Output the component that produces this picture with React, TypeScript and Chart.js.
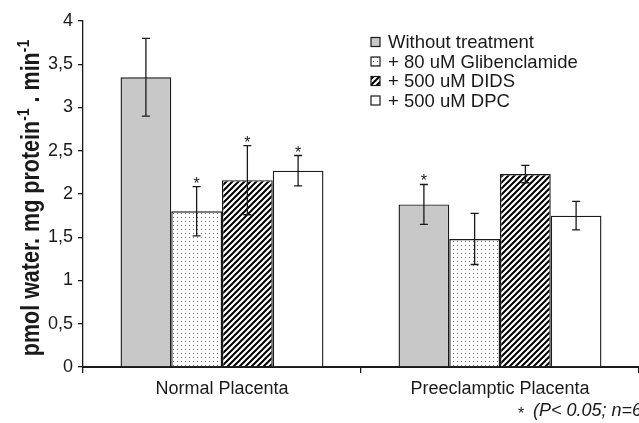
import React, { useEffect, useRef } from 'react';
import { Chart, registerables } from 'chart.js';

Chart.register(...registerables);

const categories = ['Normal Placenta', 'Preeclamptic Placenta'];
const seriesNames = ['Without treatment', '+ 80 uM Glibenclamide', '+ 500 uM DIDS', '+ 500 uM DPC'];

const withoutTreatment = [3.35, 1.88];
const glibenclamide = [1.8, 1.48];
const dids = [2.16, 2.23];
const dpc = [2.27, 1.75];

const withoutTreatmentErr = [0.45, 0.23];
const glibenclamideErr = [0.285, 0.295];
const didsErr = [0.4, 0.1];
const dpcErr = [0.175, 0.165];

const withoutTreatmentSig = [false, true];
const glibenclamideSig = [true, false];
const didsSig = [true, false];
const dpcSig = [true, false];

const yMin = 0;
const yMax = 4;
const yStep = 0.5;

const FONT = '"Liberation Sans", Arial, sans-serif';
const INK = '#1a1a1a';

function makeStipple(): CanvasPattern | string {
  const c = document.createElement('canvas');
  c.width = 4;
  c.height = 4;
  const g = c.getContext('2d');
  if (!g) return '#eee';
  g.fillStyle = '#ffffff';
  g.fillRect(0, 0, 4, 4);
  g.fillStyle = '#6a6a6a';
  g.fillRect(1, 1, 1, 1);
  const p = g.createPattern(c, 'repeat');
  return p || '#eee';
}

function makeHatch(): CanvasPattern | string {
  const s = 6;
  const c = document.createElement('canvas');
  c.width = s;
  c.height = s;
  const g = c.getContext('2d');
  if (!g) return '#888';
  g.fillStyle = '#ffffff';
  g.fillRect(0, 0, s, s);
  g.strokeStyle = '#000000';
  g.lineWidth = 2;
  g.beginPath();
  g.moveTo(-1, s + 1);
  g.lineTo(s + 1, -1);
  g.moveTo(-1, 1);
  g.lineTo(1, -1);
  g.moveTo(s - 1, s + 1);
  g.lineTo(s + 1, s - 1);
  g.stroke();
  const p = g.createPattern(c, 'repeat');
  return p || '#888';
}

export default function App() {
  const ref = useRef<HTMLCanvasElement | null>(null);

  useEffect(() => {
    const canvas = ref.current;
    if (!canvas) return;
    const stipple = makeStipple();
    const hatch = makeHatch();
    const fills: any[] = ['#c8c8c9', stipple, hatch, '#ffffff'];
    const values = [withoutTreatment, glibenclamide, dids, dpc];
    const errs = [withoutTreatmentErr, glibenclamideErr, didsErr, dpcErr];
    const sigs = [withoutTreatmentSig, glibenclamideSig, didsSig, dpcSig];

    const errorPlugin = {
      id: 'errorBars',
      afterDatasetsDraw(chart: any) {
        const ctx = chart.ctx;
        const ys = chart.scales.y;
        ctx.save();
        ctx.strokeStyle = INK;
        ctx.fillStyle = INK;
        ctx.lineWidth = 1.3;
        for (let i = 0; i < values.length; i++) {
          const meta = chart.getDatasetMeta(i);
          meta.data.forEach((el: any, j: number) => {
            const v = values[i][j];
            const e = errs[i][j];
            const x = el.x;
            const yt = ys.getPixelForValue(v + e);
            const yb = ys.getPixelForValue(v - e);
            ctx.beginPath();
            ctx.moveTo(x, yt);
            ctx.lineTo(x, yb);
            ctx.moveTo(x - 4, yt);
            ctx.lineTo(x + 4, yt);
            ctx.moveTo(x - 4, yb);
            ctx.lineTo(x + 4, yb);
            ctx.stroke();
            if (sigs[i][j]) {
              ctx.font = `16px ${FONT}`;
              ctx.textAlign = 'center';
              ctx.textBaseline = 'alphabetic';
              ctx.fillText('*', x, yt + 2);
            }
          });
        }
        ctx.restore();
      },
    };

    const decorPlugin = {
      id: 'decor',
      afterDraw(chart: any) {
        const ctx = chart.ctx;
        ctx.save();
        // legend
        const lx = 371;
        const ly0 = 42;
        const dy = 19.5;
        ctx.font = `18.5px ${FONT}`;
        ctx.textBaseline = 'middle';
        ctx.textAlign = 'left';
        for (let i = 0; i < seriesNames.length; i++) {
          const cy = ly0 + i * dy;
          ctx.fillStyle = fills[i];
          ctx.fillRect(lx, cy - 4.5, 9, 9);
          ctx.strokeStyle = INK;
          ctx.lineWidth = 1.2;
          ctx.strokeRect(lx, cy - 4.5, 9, 9);
          ctx.fillStyle = INK;
          ctx.fillText(seriesNames[i], 388, cy + 1);
        }
        // y-axis title with superscripts
        const parts: [string, boolean][] = [
          ['pmol water. mg protein', false],
          ['-1', true],
          [' . min', false],
          ['-1', true],
        ];
        const mainFont = `bold 21.5px ${FONT}`;
        const supFont = `bold 14px ${FONT}`;
        let total = 0;
        const widths: number[] = [];
        for (const [t, sup] of parts) {
          ctx.font = sup ? supFont : mainFont;
          const w = ctx.measureText(t).width;
          widths.push(w);
          total += w;
        }
        ctx.translate(39, 198);
        ctx.rotate(-Math.PI / 2);
        ctx.scale(1, 1.2);
        ctx.fillStyle = INK;
        ctx.textAlign = 'left';
        ctx.textBaseline = 'alphabetic';
        let x = -total / 2;
        parts.forEach(([t, sup], k) => {
          ctx.font = sup ? supFont : mainFont;
          ctx.fillText(t, x, sup ? -8 : 0);
          x += widths[k];
        });
        ctx.setTransform(1, 0, 0, 1, 0, 0);
        // footnote
        ctx.fillStyle = INK;
        ctx.textAlign = 'left';
        ctx.textBaseline = 'alphabetic';
        ctx.font = `16px ${FONT}`;
        ctx.fillText('*', 518, 419);
        ctx.font = `italic 18px ${FONT}`;
        ctx.fillText('(P< 0.05; n=6)', 533, 416);
        ctx.restore();
      },
    };

    const chart = new Chart(canvas, {
      type: 'bar',
      data: {
        labels: categories,
        datasets: seriesNames.map((name, i) => ({
          label: name,
          data: values[i],
          backgroundColor: fills[i],
          borderColor: INK,
          borderWidth: 1.4,
          categoryPercentage: 0.73,
          barPercentage: 1,
        })),
      },
      options: {
        animation: false,
        responsive: false,
        maintainAspectRatio: false,
        layout: { padding: { top: 21, right: -4, left: 0, bottom: 0 } },
        plugins: {
          legend: { display: false },
          tooltip: { enabled: false },
        },
        scales: {
          x: {
            grid: { offset: true, drawOnChartArea: false, drawTicks: true, tickLength: 6, color: INK, lineWidth: 1.3 },
            border: { color: INK, width: 2 },
            ticks: { color: INK, font: { family: FONT, size: 18 }, padding: 5 },
            afterFit: (s: any) => { s.height = 56; },
          },
          y: {
            min: yMin,
            max: yMax,
            grid: { drawOnChartArea: false, drawTicks: true, tickLength: 5, color: INK, lineWidth: 1.3 },
            border: { color: INK, width: 1.3 },
            ticks: {
              stepSize: yStep,
              color: INK,
              font: { family: FONT, size: 18 },
              padding: 5,
              callback: (v: any) => String(v).replace('.', ','),
            },
            afterFit: (s: any) => { s.width = 83; },
          },
        },
      },
      plugins: [errorPlugin, decorPlugin],
    });
    return () => chart.destroy();
  }, []);

  return (
    <div style={{ position: 'fixed', left: 0, top: 0, width: 639, height: 423, background: '#fff' }}>
      <canvas ref={ref} width={639} height={423} style={{ width: 639, height: 423, display: 'block' }} />
    </div>
  );
}
